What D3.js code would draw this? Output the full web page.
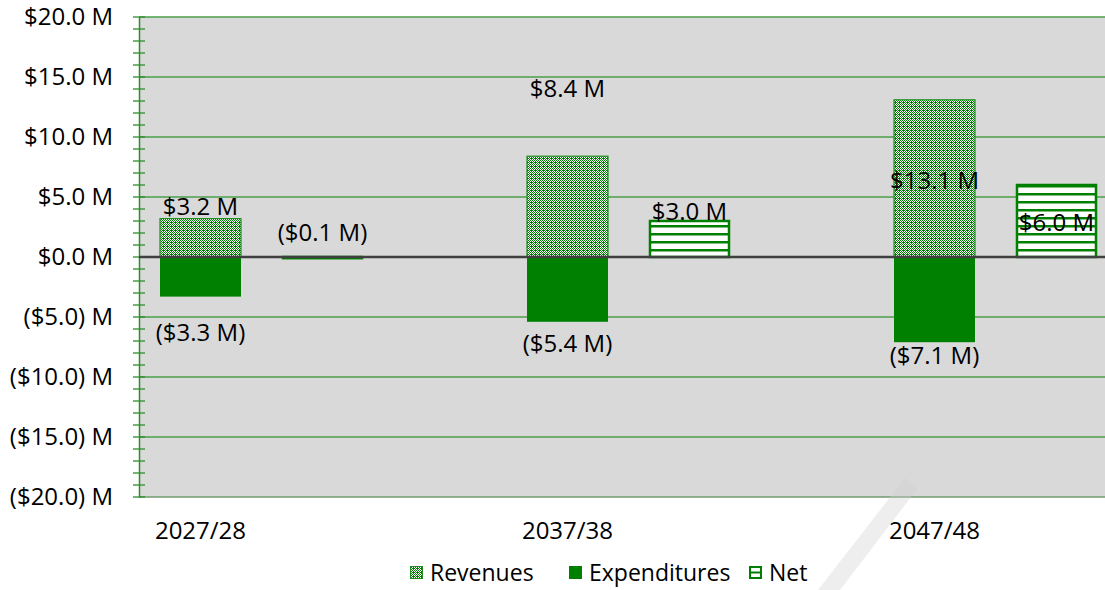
<!DOCTYPE html>
<html><head><meta charset="utf-8">
<script src="https://cdn.jsdelivr.net/npm/d3@7"></script>
<style>html,body{margin:0;padding:0;background:#fff;}svg{display:block;font-family:"Open Sans",sans-serif;}</style>
</head><body>
<svg id="c" width="1105" height="590"></svg>
<script>
const categories = ["2027/28", "2037/38", "2047/48"];
const revenues = [3.2, 8.4, 13.1];
const expenditures = [-3.3, -5.4, -7.1];
const net = [-0.1, 3.0, 6.0];
// label anchor values (in $M)
const revLabelAt = [4.2, 14.0, 6.4];
const expLabelAt = [-6.3, -7.2, -8.2];
const netLabelAt = [2.0, 3.8, 2.9];
const yTicks = [-20, -15, -10, -5, 0, 5, 10, 15, 20];
const seriesNames = ["Revenues", "Expenditures", "Net"];

const svg = d3.select("#c");
const green = "#008000";
const plot = {left: 139, top: 17, bottom: 497, right: 1105};

const y = d3.scaleLinear().domain([-20, 20]).range([plot.bottom, plot.top]);
const groupW = 367;
const x0 = d3.scaleBand().domain(categories).range([plot.left, plot.left + groupW * categories.length]).padding(0);
const x1 = d3.scaleBand().domain(["RE", "Net"]).range([21, 224]).paddingInner(0.336).paddingOuter(0);

const defs = svg.append("defs");
const pr = defs.append("pattern").attr("id", "pRev").attr("patternUnits", "userSpaceOnUse").attr("width", 4).attr("height", 4);
pr.append("rect").attr("width", 4).attr("height", 4).attr("fill", "#fff");
const revCells = ["G.G.", ".G.G", "G.GG", ".G.G"];
revCells.forEach((row, b) => row.split("").forEach((ch, a) => {
  if (ch === "G") pr.append("rect").attr("x", a).attr("y", b).attr("width", 1).attr("height", 1).attr("fill", green).attr("shape-rendering", "crispEdges");
}));
const pn = defs.append("pattern").attr("id", "pNet").attr("patternUnits", "userSpaceOnUse").attr("width", 8).attr("height", 8).attr("y", 1);
pn.append("rect").attr("width", 8).attr("height", 8).attr("fill", "#fff");
pn.append("rect").attr("y", 0).attr("width", 8).attr("height", 2.5).attr("fill", green);
const clip = defs.append("clipPath").attr("id", "clipPlot");
clip.append("rect").attr("x", plot.left).attr("y", plot.top - 2).attr("width", plot.right - plot.left).attr("height", plot.bottom - plot.top + 4);

// background
svg.append("rect").attr("x", plot.left).attr("y", plot.top).attr("width", plot.right - plot.left).attr("height", plot.bottom - plot.top).attr("fill", "#d9d9d9");

// gridlines
svg.append("g").selectAll("line").data(yTicks.filter(d => d !== 0)).join("line")
  .attr("x1", plot.left).attr("x2", plot.right)
  .attr("y1", d => y(d)).attr("y2", d => y(d))
  .attr("stroke", d => d === -20 ? "#6f9a6f" : "#4a9e4a").attr("stroke-width", 1.3);

// y axis
const yAxis = d3.axisLeft(y).tickValues(yTicks)
  .tickFormat(d => d < 0 ? `($${Math.abs(d).toFixed(1)}) M` : `$${d.toFixed(1)} M`)
  .tickSize(0).tickPadding(26);
const ga = svg.append("g").attr("transform", `translate(${plot.left},0)`).call(yAxis);
ga.select(".domain").attr("stroke", "#2e8b2e").attr("stroke-width", 1.5);
ga.selectAll("text").attr("font-size", 24).attr("fill", "#000").attr("font-family", "Open Sans");
svg.append("g").selectAll("line").data(d3.range(-20, 21, 1)).join("line")
  .attr("x1", plot.left - 6).attr("x2", plot.left + 6)
  .attr("y1", d => y(d)).attr("y2", d => y(d))
  .attr("stroke", "#2e8b2e").attr("stroke-width", 1.3);

// bars
const gb = svg.append("g").attr("clip-path", "url(#clipPlot)");
const bw = x1.bandwidth();
gb.selectAll("rect.rev").data(categories).join("rect").attr("class", "rev")
  .attr("x", (c) => x0(c) + x1("RE")).attr("width", bw)
  .attr("y", (c, i) => y(revenues[i])).attr("height", (c, i) => y(0) - y(revenues[i]))
  .attr("fill", "url(#pRev)").attr("stroke", "#1f8f1f").attr("stroke-width", 1.2);
gb.selectAll("rect.exp").data(categories).join("rect").attr("class", "exp")
  .attr("x", (c) => x0(c) + x1("RE")).attr("width", bw)
  .attr("y", y(0)).attr("height", (c, i) => y(expenditures[i]) - y(0))
  .attr("fill", green);
gb.selectAll("rect.net").data(categories).join("rect").attr("class", "net")
  .attr("x", (c) => x0(c) + x1("Net") + 1).attr("width", bw - 2)
  .attr("y", (c, i) => y(Math.max(0, net[i]))).attr("height", (c, i) => Math.abs(y(net[i]) - y(0)))
  .attr("fill", (c, i) => net[i] < 0 ? green : "url(#pNet)").attr("stroke", green).attr("stroke-width", 2.5);

// zero line
svg.append("line").attr("x1", plot.left).attr("x2", plot.right).attr("y1", y(0)).attr("y2", y(0))
  .attr("stroke", "#404040").attr("stroke-width", 2.5);

// data labels
const fmt = v => v < 0 ? `($${Math.abs(v).toFixed(1)} M)` : `$${v.toFixed(1)} M`;
const gl = svg.append("g").attr("font-size", 24).attr("text-anchor", "middle").attr("fill", "#000");
categories.forEach((c, i) => {
  const cx = x0(c) + x1("RE") + bw / 2;
  const nx = x0(c) + x1("Net") + bw / 2;
  gl.append("text").attr("x", cx).attr("y", y(revLabelAt[i])).attr("dy", "0.35em").text(fmt(revenues[i]));
  gl.append("text").attr("x", cx).attr("y", y(expLabelAt[i])).attr("dy", "0.35em").text(fmt(expenditures[i]));
  gl.append("text").attr("x", nx).attr("y", y(netLabelAt[i])).attr("dy", "0.35em").text(fmt(net[i]));
});

// category labels
svg.append("g").selectAll("text").data(categories).join("text")
  .attr("x", c => x0(c) + x1("RE") + bw / 2).attr("y", 539)
  .attr("text-anchor", "middle").attr("font-size", 24).text(c => c);

// legend
const legX = [410, 569, 749];
const lg = svg.append("g");
seriesNames.forEach((n, i) => {
  const g = lg.append("g").attr("transform", `translate(${legX[i]},566)`);
  if (i === 0) g.append("rect").attr("x", 0.5).attr("y", 0.5).attr("width", 12).attr("height", 12).attr("fill", "url(#pRev)").attr("stroke", "#1f8f1f");
  else if (i === 1) g.append("rect").attr("width", 13).attr("height", 13).attr("fill", green);
  else {
    g.append("rect").attr("x", 1).attr("y", 1).attr("width", 11).attr("height", 11).attr("fill", "#fff").attr("stroke", green).attr("stroke-width", 2);
    g.append("line").attr("x1", 1).attr("x2", 12).attr("y1", 6.5).attr("y2", 6.5).attr("stroke", green).attr("stroke-width", 2);
  }
  g.append("text").attr("x", 20).attr("y", 15).attr("font-size", 23).text(n);
});

// watermark stroke
svg.append("path").attr("d", "M818,590 L840,590 L918,488 L905,478 Z").attr("fill", "#cfcfcf").attr("opacity", 0.35);
</script>
</body></html>
